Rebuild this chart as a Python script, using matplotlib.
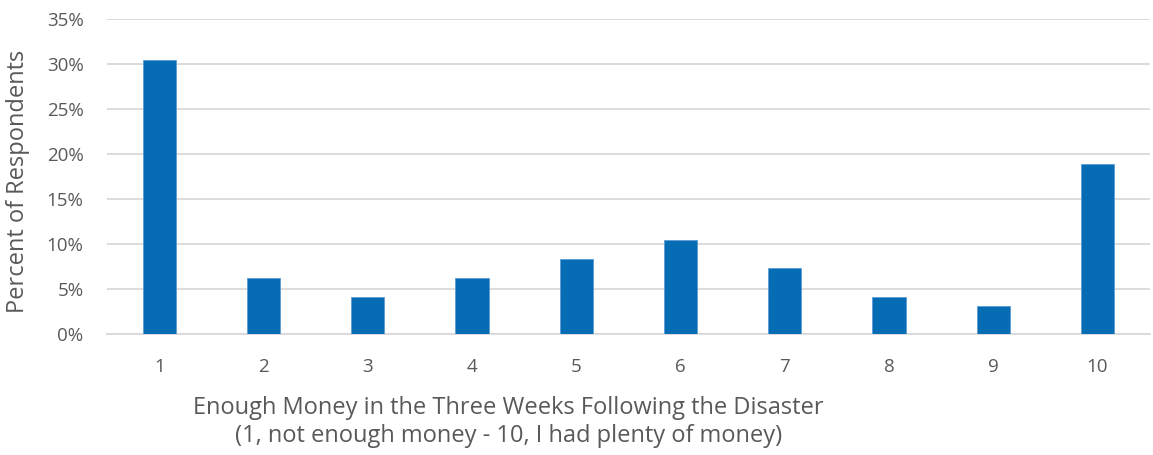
import matplotlib
matplotlib.use("Agg")
import matplotlib.pyplot as plt
from matplotlib.ticker import FuncFormatter

# Survey responses: share of respondents per rating
ratings = ["1", "2", "3", "4", "5", "6", "7", "8", "9", "10"]
percent = [30.5, 6.3, 4.2, 6.3, 8.4, 10.5, 7.4, 4.2, 3.2, 18.9]

x_title = ("Enough Money in the Three Weeks Following the Disaster\n"
           "(1, not enough money - 10, I had plenty of money)")
y_title = "Percent of Respondents"

plt.rcParams["font.family"] = ["Open Sans", "DejaVu Sans"]
text_color = "#595959"
bar_color = "#066db5"

fig = plt.figure(figsize=(11.53, 4.55), dpi=100)
ax = fig.add_axes([0.093, 0.265, 0.904, 0.693])

pos = list(range(len(ratings)))
ax.bar(pos, percent, width=0.32, color=bar_color, edgecolor="#5b9bd5",
       linewidth=0.6, zorder=3)

ax.set_xlim(-0.5, len(ratings) - 0.5)
ax.set_ylim(0, 35)
ax.set_yticks(range(0, 36, 5))
ax.yaxis.set_major_formatter(FuncFormatter(lambda v, _: f"{v:.0f}%"))
ax.set_xticks(pos)
ax.set_xticklabels(ratings)

ax.grid(axis="y", color="#d9d9d9", linewidth=1.3, zorder=0)
for side in ["top", "right", "left"]:
    ax.spines[side].set_visible(False)
ax.spines["bottom"].set_color("#d9d9d9")
ax.spines["bottom"].set_linewidth(1.3)

ax.tick_params(axis="both", length=0, labelsize=13.5, colors=text_color)
ax.tick_params(axis="x", pad=17)
ax.tick_params(axis="y", pad=17)

ax.set_ylabel(y_title, fontsize=17, color=text_color)
ax.yaxis.set_label_coords(-0.074, 0.4865, transform=ax.transAxes)

ax.set_xlabel(x_title, fontsize=17, color=text_color, linespacing=1.25)
ax.xaxis.set_label_coords(0.385, -0.195, transform=ax.transAxes)
ax.xaxis.label.set_verticalalignment("top")

fig.savefig("out.png", dpi=100)
